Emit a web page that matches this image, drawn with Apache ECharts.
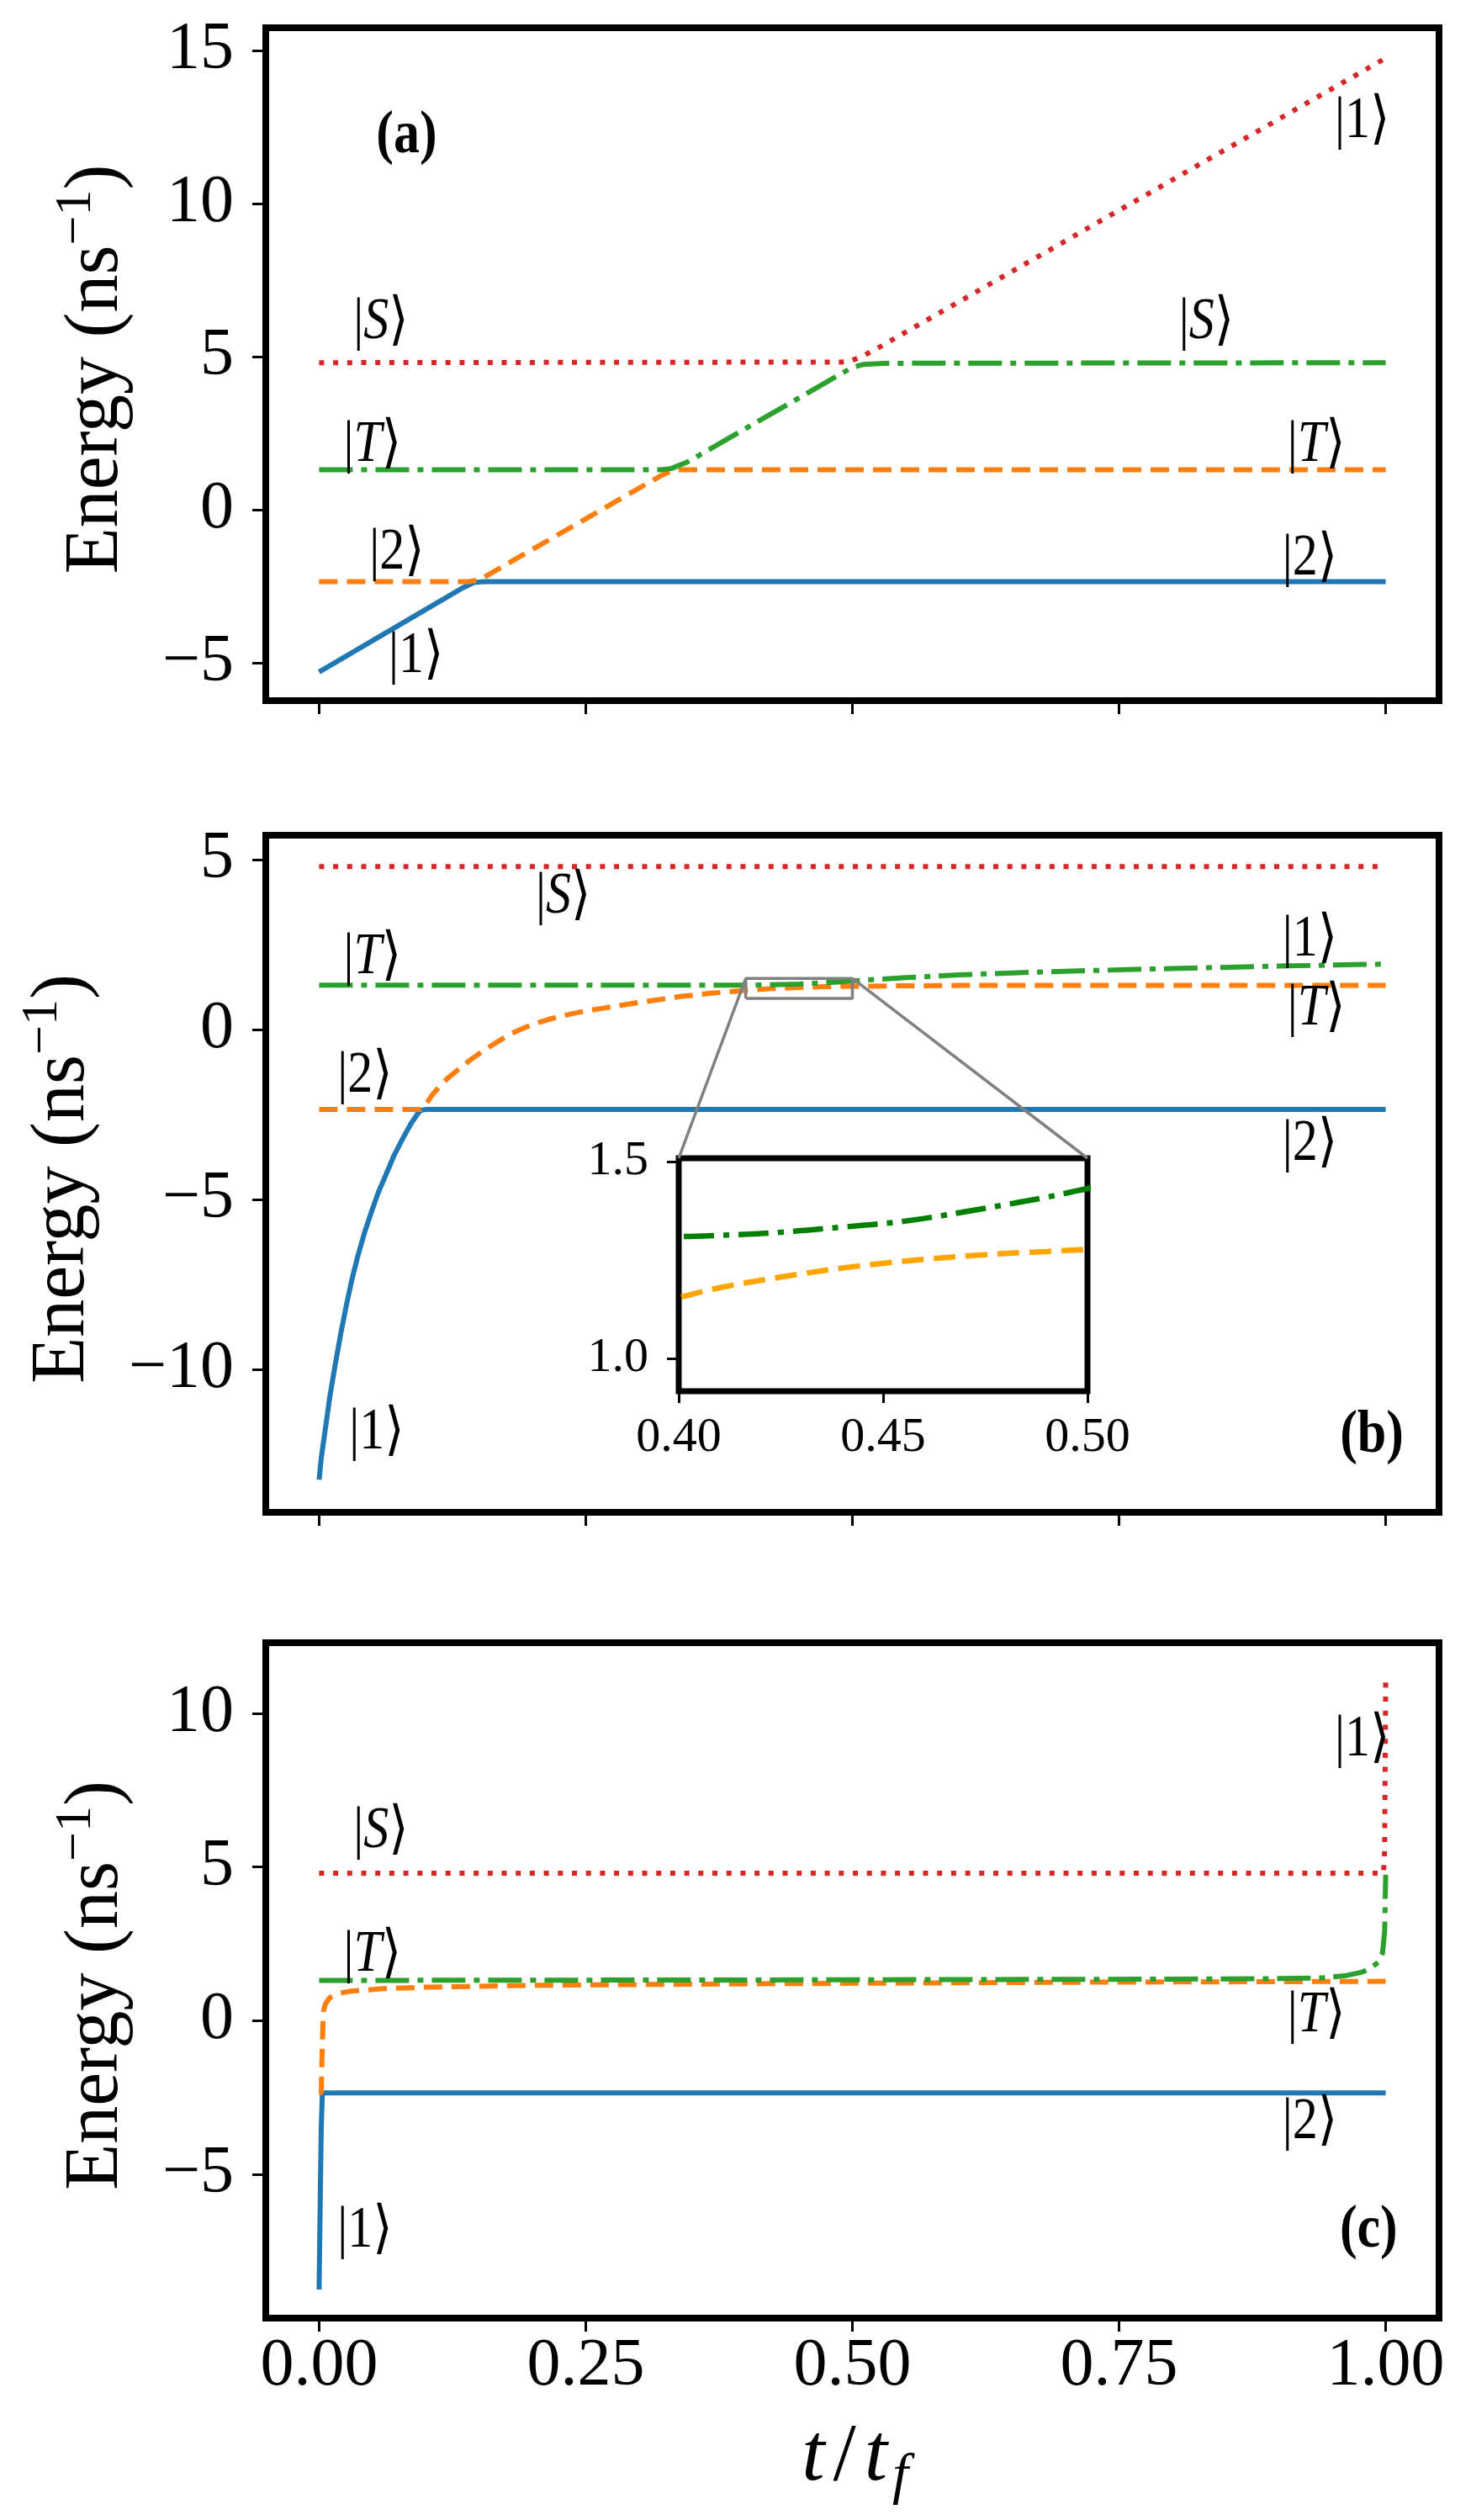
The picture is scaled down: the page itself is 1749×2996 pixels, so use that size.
<!DOCTYPE html>
<html>
<head>
<meta charset="utf-8">
<script src="https://cdn.jsdelivr.net/npm/echarts@6/dist/echarts.min.js"></script>
<style>
html, body { margin: 0; background: #fff; }
#chart { width: 1749px; height: 2996px; }
</style>
</head>
<body>
<div id="chart"></div>
<script>
// ---- data: [t/tf, energy] ----
// panel (a)
const aState1 = [[0, -5.3], [0.135, -2.55], [0.145, -2.38], [0.155, -2.35], [1, -2.35]];
const aState2 = [[0, -2.35], [0.14, -2.35], [0.15, -2.3], [0.16, -2.1], [0.32, 1.1], [0.33, 1.26], [0.34, 1.3], [1, 1.3]];
const aState3 = [[0, 1.3], [0.32, 1.3], [0.33, 1.34], [0.345, 1.55], [0.49, 4.45], [0.5, 4.65], [0.51, 4.74], [0.53, 4.78], [1, 4.8]];
const aState4 = [[0, 4.8], [0.49, 4.82], [0.5, 4.88], [0.51, 5.02], [0.525, 5.3], [1, 14.75]];

// panel (b)
const bState1 = [[0, -13.24], [0.0021, -12.58], [0.0061, -11.69], [0.01, -10.81], [0.0152, -9.84], [0.0205, -8.91],
  [0.0258, -8.07], [0.031, -7.32], [0.0363, -6.66], [0.0428, -5.95], [0.0494, -5.33], [0.056, -4.75],
  [0.0626, -4.27], [0.0704, -3.69], [0.0783, -3.21], [0.0862, -2.76], [0.0925, -2.47], [0.0954, -2.37],
  [0.1, -2.35], [1, -2.35]];
const bState2 = [[0, -2.35], [0.095, -2.35], [0.1, -2.2], [0.107, -1.88], [0.12, -1.44], [0.141, -0.91],
  [0.153, -0.64], [0.165, -0.4], [0.178, -0.15], [0.19, 0.02], [0.2, 0.15], [0.215, 0.3], [0.23, 0.42],
  [0.245, 0.52], [0.26, 0.6], [0.28, 0.7], [0.3, 0.8], [0.32, 0.89], [0.34, 0.98], [0.37, 1.08],
  [0.4, 1.155], [0.41, 1.18], [0.425, 1.207], [0.44, 1.23], [0.45, 1.242], [0.46, 1.252], [0.475, 1.264],
  [0.49, 1.272], [0.5, 1.277], [0.55, 1.29], [0.6, 1.3], [1, 1.3]];
const bState3 = [[0, 1.31], [0.4, 1.31], [0.41, 1.313], [0.425, 1.321], [0.44, 1.334], [0.45, 1.343],
  [0.46, 1.356], [0.475, 1.382], [0.49, 1.41], [0.5, 1.432], [0.525, 1.485], [0.55, 1.53], [0.6, 1.61],
  [0.65, 1.67], [0.7, 1.72], [0.8, 1.8], [0.9, 1.87], [1, 1.93]];
const bState4 = [[0, 4.8], [1, 4.8]];

// panel (c)
const cState1 = [[0, -8.75], [0.001, -6], [0.002, -3.5], [0.003, -2.4], [0.005, -2.35], [1, -2.35]];
const cState2 = [[0, -2.35], [0.002, -2.35], [0.003, -0.8], [0.004, 0.3], [0.006, 0.55], [0.01, 0.75],
  [0.02, 0.9], [0.03, 0.96], [0.06, 1.04], [0.1, 1.09], [0.2, 1.15], [0.4, 1.2], [0.7, 1.25], [1, 1.28]];
const cState3 = [[0, 1.31], [0.5, 1.33], [0.8, 1.35], [0.9, 1.37], [0.94, 1.39], [0.963, 1.47], [0.978, 1.58],
  [0.986, 1.72], [0.993, 1.9], [0.997, 2.2], [0.999, 2.9], [1, 4.75]];
const cState4 = [[0, 4.8], [0.998, 4.8], [0.999, 5.6], [1, 11.2]];

// axes
const xRange = [-0.05, 1.05];
const xTicks = [0, 0.25, 0.5, 0.75, 1];
const yRangeA = [-6.24, 15.74], yTicksA = [-5, 0, 5, 10, 15];
const yRangeB = [-14.2, 5.72], yTicksB = [-10, -5, 0, 5];
const yRangeC = [-9.68, 12.3], yTicksC = [-5, 0, 5, 10];
const insetXRange = [0.4, 0.5], insetXTicks = [0.4, 0.45, 0.5];
const insetYRange = [0.917, 1.509], insetYTicks = [1.0, 1.5];

// state labels: [t, E, text]
const labelsA = [[0.978, 12.66, '|1⟩'], [0.058, 6.1, '|{i|S}⟩'], [0.832, 6.1, '|{i|S}⟩'],
  [0.05, 2.09, '|{i|T}⟩'], [0.935, 2.09, '|{i|T}⟩'], [0.073, -1.43, '|2⟩'], [0.929, -1.62, '|2⟩'],
  [0.091, -4.81, '|1⟩']];
const labelsB = [[0.229, 3.89, '|{i|S}⟩'], [0.05, 2.1, '|{i|T}⟩'], [0.929, 2.62, '|1⟩'],
  [0.935, 0.59, '|{i|T}⟩'], [0.043, -1.39, '|2⟩'], [0.929, -3.39, '|2⟩'], [0.054, -11.88, '|1⟩']];
const labelsC = [[0.978, 9.12, '|1⟩'], [0.058, 6.14, '|{i|S}⟩'], [0.05, 2.11, '|{i|T}⟩'],
  [0.935, 0.14, '|{i|T}⟩'], [0.929, -3.34, '|2⟩'], [0.043, -6.85, '|1⟩']];
const panelTags = [[0, 0.082, 12.17, '(a)'], [1, 0.987, -11.96, '(b)'], [2, 0.984, -6.85, '(c)']];

// ---- styling ----
const FONT = '"Liberation Serif", "DejaVu Serif", serif';
const C = { blue: '#1f77b4', orange: '#ff7f0e', green: '#2ca02c', red: '#d62728' };
const DASHED = [22, 11], DASHDOT = [40, 10, 7, 10], DOTTED = [6, 10.7];
const LW = 6;

const grids = [
    { left: 316, top: 33, width: 1395, height: 800 },
    { left: 316, top: 993, width: 1395, height: 805 },
    { left: 316, top: 1953, width: 1395, height: 803 },
    { left: 807, top: 1377, width: 486, height: 277, backgroundColor: '#fff', borderWidth: 7 }
].map(function (g) {
    return Object.assign({ show: true, borderColor: '#000', borderWidth: 8, backgroundColor: 'transparent' }, g);
});

function minus(v) { return String(v).replace('-', '\u2212'); }

function axis(gi, range, ticks, showLabels, fmt, fs, tickLen, margin) {
    return {
        type: 'value', gridIndex: gi, min: range[0], max: range[1],
        axisLine: { show: false, onZero: false }, splitLine: { show: false },
        axisTick: { show: true, length: tickLen, lineStyle: { color: '#000', width: 3 }, customValues: ticks },
        axisLabel: { show: showLabels, customValues: ticks, formatter: fmt, margin: margin,
            fontFamily: FONT, fontSize: fs, color: '#000' }
    };
}

function line(ai, data, color, dash, width, z) {
    return {
        type: 'line', xAxisIndex: ai, yAxisIndex: ai, data: data, showSymbol: false, symbol: 'none',
        clip: true, animation: false, z: z || 2,
        lineStyle: { color: color, type: dash, width: width || LW, cap: 'butt' }
    };
}

const fmt2 = function (v) { return v.toFixed(2); };
const fmt1 = function (v) { return v.toFixed(1); };

const insetBox = [[insetXRange[0], insetYRange[0]], [insetXRange[1], insetYRange[0]],
    [insetXRange[1], insetYRange[1]], [insetXRange[0], insetYRange[1]], [insetXRange[0], insetYRange[0]]];

const chart = echarts.init(document.getElementById('chart'), null, { renderer: 'canvas' });
chart.setOption({
    animation: false,
    backgroundColor: '#fff',
    grid: grids,
    xAxis: [
        axis(0, xRange, xTicks, false, fmt2, 80, 16, 18),
        axis(1, xRange, xTicks, false, fmt2, 80, 16, 18),
        axis(2, xRange, xTicks, true, fmt2, 80, 16, 18),
        axis(3, insetXRange, insetXTicks, true, fmt2, 58, 14, 27)
    ],
    yAxis: [
        axis(0, yRangeA, yTicksA, true, minus, 80, 16, 38),
        axis(1, yRangeB, yTicksB, true, minus, 80, 16, 38),
        axis(2, yRangeC, yTicksC, true, minus, 80, 16, 38),
        axis(3, insetYRange, insetYTicks, true, fmt1, 58, 14, 36)
    ],
    series: [
        line(0, aState1, C.blue, 'solid'),
        line(0, aState2, C.orange, DASHED),
        line(0, aState3, C.green, DASHDOT),
        line(0, aState4, C.red, DOTTED),

        line(1, bState1, C.blue, 'solid'),
        line(1, bState2, C.orange, DASHED),
        line(1, bState3, C.green, DASHDOT),
        line(1, bState4, C.red, DOTTED),
        line(1, insetBox, '#808080', 'solid', 3.5, 5),

        line(2, cState1, C.blue, 'solid'),
        line(2, cState2, C.orange, DASHED),
        line(2, cState3, C.green, DASHDOT),
        line(2, cState4, C.red, DOTTED),

        Object.assign(line(3, bState2, 'orange', [26, 12], 6.5), { smooth: 0.4 }),
        Object.assign(line(3, bState3, 'green', [36, 11, 7, 11], 6.5), { smooth: 0.4 })
    ]
});

// ---- annotations placed through the axes' own scales ----
function px(ai, t, e) { return chart.convertToPixel({ xAxisIndex: ai, yAxisIndex: ai }, [t, e]); }

const graphics = [];
[labelsA, labelsB, labelsC].forEach(function (list, ai) {
    list.forEach(function (l) {
        const p = px(ai, l[0], l[1]);
        graphics.push({
            type: 'text', x: p[0], y: p[1], z: 10, scaleY: 1.15,
            style: { text: l[2], fontFamily: FONT, fontSize: 60, fill: '#000', align: 'center', verticalAlign: 'middle',
                rich: { i: { fontFamily: FONT, fontSize: 60, fontStyle: 'italic' } } }
        });
    });
});
panelTags.forEach(function (tg) {
    const p = px(tg[0], tg[1], tg[2]);
    graphics.push({
        type: 'text', x: p[0], y: p[1], z: 10, scaleY: 1.15,
        style: { text: tg[3], fontFamily: FONT, fontSize: 62, fontWeight: 'bold', fill: '#000',
            align: 'center', verticalAlign: 'middle' }
    });
});

// zoom connectors: upper corners of the marked box to upper corners of the inset
[insetXRange[0], insetXRange[1]].forEach(function (t) {
    const p1 = px(1, t, insetYRange[1]);
    const p2 = px(3, t, insetYRange[1]);
    graphics.push({ type: 'line', z: 4, shape: { x1: p1[0], y1: p1[1], x2: p2[0], y2: p2[1] },
        style: { stroke: '#808080', lineWidth: 3.5 } });
});

// y titles
const yTitleX = [115, 75, 115];
grids.slice(0, 3).forEach(function (g, i) {
    graphics.push({
        type: 'text', x: yTitleX[i], y: g.top + g.height / 2 + 6, rotation: Math.PI / 2, z: 10,
        style: { text: '{t|Energy (ns}{s|\u22121}{t|)}', fontFamily: FONT, fontSize: 90, fill: '#000',
            align: 'center', verticalAlign: 'middle',
            rich: {
                t: { fontFamily: FONT, fontSize: 90, lineHeight: 110 },
                s: { fontFamily: FONT, fontSize: 62, lineHeight: 62, verticalAlign: 'top' }
            } }
    });
});
// x title
graphics.push({
    type: 'text', x: grids[2].left + grids[2].width / 2, y: 2922, z: 10,
    style: { text: '{i|t}{n|/}{i|t}{f|f}', fontFamily: FONT, fontSize: 96, fill: '#000',
        align: 'center', verticalAlign: 'middle',
        rich: {
            i: { fontFamily: FONT, fontSize: 98, fontStyle: 'italic', lineHeight: 116, padding: [0, 6, 0, 6] },
            n: { fontFamily: FONT, fontSize: 98, lineHeight: 116, padding: [0, 4, 0, 4] },
            f: { fontFamily: FONT, fontSize: 68, fontStyle: 'italic', lineHeight: 68, verticalAlign: 'bottom' }
        } }
});

chart.setOption({ graphic: graphics });

window.addEventListener('resize', function () { chart.resize(); });
</script>
</body>
</html>
